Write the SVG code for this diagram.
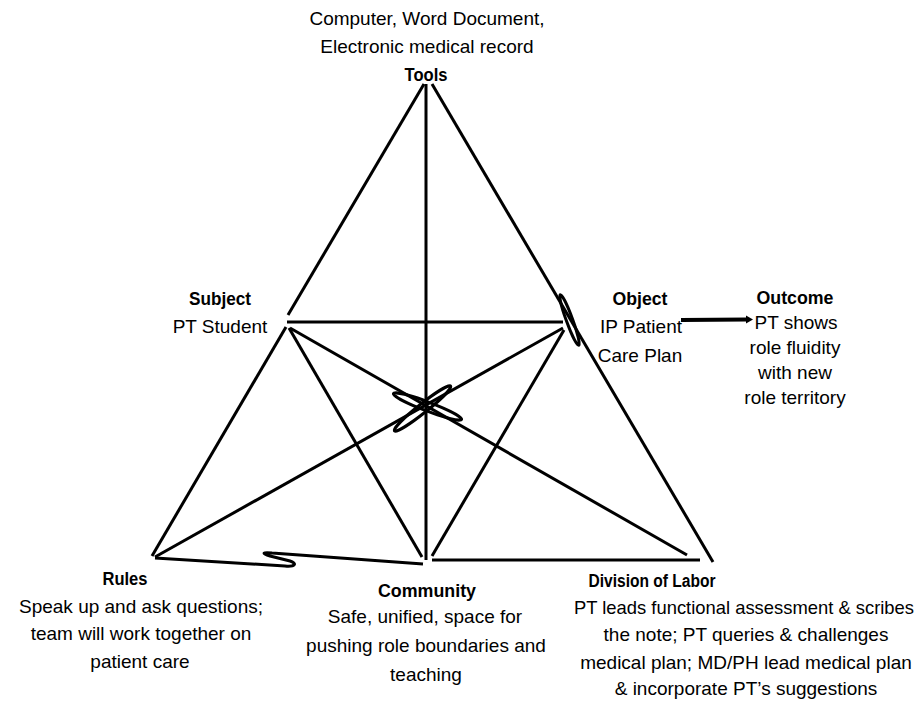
<svg xmlns="http://www.w3.org/2000/svg" width="924" height="705" viewBox="0 0 924 705">
<style>
.ln{stroke:#000;stroke-width:3;fill:none;stroke-linecap:butt;stroke-linejoin:round}
text{font-family:"Liberation Sans",Arial,sans-serif;font-size:19px;fill:#000;text-anchor:middle}
.b{font-weight:bold;font-size:18px}
</style>
<rect width="924" height="705" fill="#fff"/>
<g id="connectors">
<line class="ln" x1="424" y1="84" x2="288" y2="315"/>
<line class="ln" x1="432" y1="84" x2="713" y2="562"/>
<line class="ln" x1="426" y1="84" x2="426" y2="560"/>
<line class="ln" x1="287" y1="322" x2="563" y2="322"/>
<line class="ln" x1="286" y1="327" x2="152" y2="556"/>
<line class="ln" x1="289" y1="328" x2="422" y2="557"/>
<line class="ln" x1="290" y1="328" x2="687" y2="555"/>
<line class="ln" x1="563" y1="328" x2="155" y2="557"/>
<line class="ln" x1="564" y1="330" x2="432" y2="556"/>
<line class="ln" x1="432" y1="560" x2="700" y2="560"/>
<path class="ln" d="M155,558 L285,566 C296,567 297,563 290,561 L270,556 C261,553 263,552 272,553 L423,564"/>
<ellipse class="ln" cx="569.5" cy="320" rx="27" ry="3.2" transform="rotate(70 569.5 320)"/>
<ellipse class="ln" cx="427.5" cy="406.5" rx="36.5" ry="4.5" transform="rotate(20.8 427.5 406.5)"/>
<ellipse class="ln" cx="422.5" cy="408.5" rx="36" ry="4.5" transform="rotate(-38.5 422.5 408.5)"/>
<line x1="681" y1="320" x2="747" y2="319.5" stroke="#000" stroke-width="4"/>
<polygon points="746,315.5 753,319.5 746,323.5" fill="#000"/>
</g>
<g id="tools">
<text x="427" y="25">Computer, Word Document,</text>
<text x="427" y="53">Electronic medical record</text>
<text class="b" x="426" y="81" textLength="43" lengthAdjust="spacingAndGlyphs">Tools</text>
</g>
<g id="subject">
<text class="b" x="220" y="305" textLength="62" lengthAdjust="spacingAndGlyphs">Subject</text>
<text x="220" y="333">PT Student</text>
</g>
<g id="object">
<text class="b" x="640" y="305" textLength="55" lengthAdjust="spacingAndGlyphs">Object</text>
<text x="641" y="333">IP Patient</text>
<text x="640" y="362">Care Plan</text>
</g>
<g id="outcome">
<text class="b" x="795" y="304" textLength="77" lengthAdjust="spacingAndGlyphs">Outcome</text>
<text x="796" y="329">PT shows</text>
<text x="795" y="354">role fluidity</text>
<text x="795" y="379">with new</text>
<text x="795" y="404">role territory</text>
</g>
<g id="rules">
<text class="b" x="125" y="585" textLength="45" lengthAdjust="spacingAndGlyphs">Rules</text>
<text x="141" y="613">Speak up and ask questions;</text>
<text x="141" y="640">team will work together on</text>
<text x="140" y="668">patient care</text>
</g>
<g id="community">
<text class="b" x="427" y="597" textLength="98" lengthAdjust="spacingAndGlyphs">Community</text>
<text x="425" y="623">Safe, unified, space for</text>
<text x="426" y="652">pushing role boundaries and</text>
<text x="426" y="681">teaching</text>
</g>
<g id="division">
<text class="b" x="652" y="587" textLength="127" lengthAdjust="spacingAndGlyphs">Division of Labor</text>
<text x="744" y="614" style="font-size:18.4px">PT leads functional assessment &amp; scribes</text>
<text x="746" y="641">the note; PT queries &amp; challenges</text>
<text x="746" y="669">medical plan; MD/PH lead medical plan</text>
<text x="746" y="695">&amp; incorporate PT’s suggestions</text>
</g>
</svg>
